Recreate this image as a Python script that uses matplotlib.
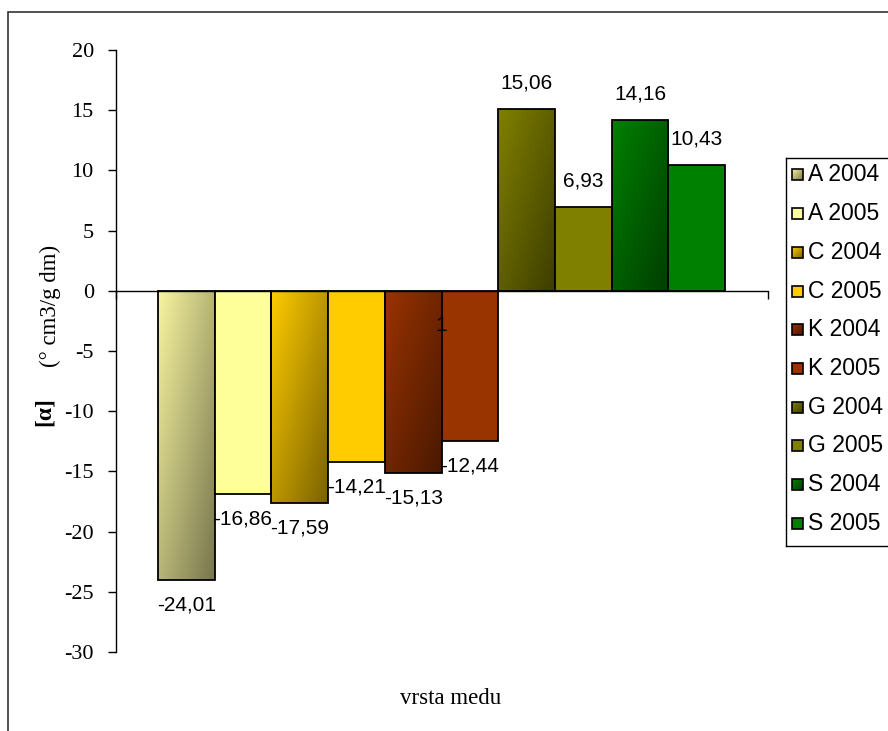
import numpy as np
import matplotlib
matplotlib.use("Agg")
import matplotlib.pyplot as plt
from matplotlib.patches import Rectangle
from matplotlib.colors import to_rgb

# Series of the chart: honey type / year and specific rotation values
series = ["A 2004", "A 2005", "C 2004", "C 2005", "K 2004",
          "K 2005", "G 2004", "G 2005", "S 2004", "S 2005"]
values = [-24.01, -16.86, -17.59, -14.21, -15.13,
          -12.44, 15.06, 6.93, 14.16, 10.43]
labels = ["-24,01", "-16,86", "-17,59", "-14,21", "-15,13",
          "-12,44", "15,06", "6,93", "14,16", "10,43"]
colors = ["#FFFF99", "#FFFF99", "#FFCC00", "#FFCC00", "#993300",
          "#993300", "#808000", "#808000", "#008000", "#008000"]
gradient = [True, False, True, False, True, False, True, False, True, False]
y_ticks = [20, 15, 10, 5, 0, -5, -10, -15, -20, -25, -30]

W, H = 888, 731
fig = plt.figure(figsize=(W / 100, H / 100), dpi=100)
fig.patch.set_facecolor("white")

# outer frame (runs off the right and bottom edges)
fig.add_artist(Rectangle((8 / W, -0.05), 1.2, 1 - 12 / H + 0.05,
                         transform=fig.transFigure, fill=False,
                         edgecolor="#333333", lw=1.2))

ax = fig.add_axes([116 / W, 1 - 652 / H, (768 - 116) / W, (652 - 50) / H])
ax.set_facecolor("none")

serif = "Liberation Serif"
sans = "Liberation Sans"


def grad_image(base):
    c0 = np.array(to_rgb(base))
    c1 = c0 * 0.48
    u = np.linspace(0, 1, 60)[None, :]
    v = np.linspace(0, 1, 200)[:, None]
    t = ((u + v) / 2.0)[..., None]
    return c0 * (1 - t) + c1 * t


def grad_base(col):
    return "#F8F5A0" if col == "#FFFF99" else col


xs = np.arange(len(values))
for x, val, col, g in zip(xs, values, colors, gradient):
    y0, y1 = min(0, val), max(0, val)
    rect = Rectangle((x - 0.5, y0), 1, y1 - y0,
                     facecolor="none" if g else col,
                     edgecolor="black", lw=1.3, zorder=3)
    ax.add_patch(rect)
    if g:
        im = ax.imshow(grad_image(grad_base(col)),
                       extent=(x - 0.5, x + 0.5, y0, y1), origin="upper",
                       aspect="auto", zorder=2, interpolation="bilinear")
        im.set_clip_path(rect)

for x, val, lab in zip(xs, values, labels):
    off = 19 if val > 0 else -18
    ax.annotate(lab, (x, val), xytext=(0, off), textcoords="offset points",
                ha="center", va="center", fontsize=15, family=sans, zorder=5)

# stray fragment of a clipped label
ax.annotate("1", (4.5, 0), xytext=(0, -25), textcoords="offset points",
            ha="center", va="center", fontsize=15, family=sans, zorder=5)

ax.set_xlim(-0.5 - 42 / 56.7, 9.5 + 43 / 56.7)
ax.set_ylim(-30, 20)

for s in ["top", "right"]:
    ax.spines[s].set_visible(False)
ax.spines["bottom"].set_position(("data", 0))
ax.spines["left"].set_linewidth(1.0)
ax.spines["bottom"].set_linewidth(1.0)
ax.spines["bottom"].set_zorder(4)

ax.set_yticks(y_ticks)
ax.set_yticklabels([str(t) for t in y_ticks], family=serif, fontsize=16)
ax.tick_params(axis="y", direction="out", length=6, width=1.0, pad=10)
ax.set_xticks([ax.get_xlim()[0], ax.get_xlim()[1]])
ax.set_xticklabels([])
ax.tick_params(axis="x", direction="out", length=6, width=1.0)

# axis titles
fig.text(451 / W, 1 - 699 / H, "vrsta medu", family=serif, fontsize=16.5,
         ha="center", va="center")
fig.text(50 / W, 1 - 306 / H, "(° cm3/g dm)", family=serif, fontsize=16.5,
         ha="center", va="center", rotation=90)
fig.text(44 / W, 1 - 412 / H, "[α]", family=serif, fontsize=17,
         fontweight="bold", ha="center", va="center", rotation=90)

# legend: its own axes in pixel units (y grows downward)
lx0, ly0, ly1 = 786, 158, 546
lax = fig.add_axes([lx0 / W, 1 - ly1 / H, (W - lx0) / W, (ly1 - ly0) / H])
lax.set_xlim(lx0, W)
lax.set_ylim(ly1, ly0)
lax.set_facecolor("white")
lax.set_xticks([])
lax.set_yticks([])
for s in ["top", "left", "bottom"]:
    lax.spines[s].set_linewidth(1.0)
lax.spines["right"].set_visible(False)

sq = 11
for i, (name, col, g) in enumerate(zip(series, colors, gradient)):
    yc = 175 + i * 38.7
    sx = 792
    box = Rectangle((sx, yc - sq / 2), sq, sq,
                    facecolor="none" if g else col,
                    edgecolor="black", lw=1.2, zorder=3)
    lax.add_patch(box)
    if g:
        im = lax.imshow(grad_image(grad_base(col)),
                        extent=(sx, sx + sq, yc + sq / 2, yc - sq / 2),
                        origin="upper", aspect="auto", zorder=2)
        im.set_clip_path(box)
    lax.text(808, yc, name, family=sans, fontsize=16.5, ha="left",
             va="center", clip_on=False)
lax.set_xlim(lx0, W)
lax.set_ylim(ly1, ly0)

fig.savefig("out.png", dpi=100)
